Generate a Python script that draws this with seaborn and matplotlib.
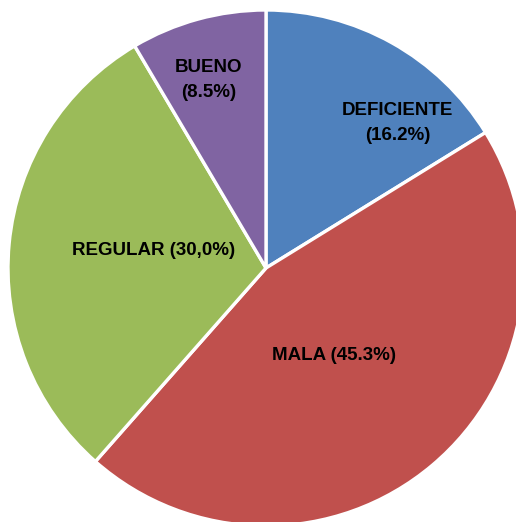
import matplotlib
matplotlib.use("Agg")
import numpy as np
import seaborn as sns
from matplotlib import pyplot as plt

categories = ["DEFICIENTE", "MALA", "REGULAR", "BUENO"]
shares = [16.2, 45.3, 30.0, 8.5]
labels = ["DEFICIENTE\n(16.2%)", "MALA (45.3%)", "REGULAR (30,0%)", "BUENO\n(8.5%)"]
colors = ["#4F81BD", "#C0504D", "#9BBB59", "#8064A2"]

# where each label sits: (angle offset from slice middle in deg, fraction of radius)
label_place = [(-13, 0.76), (-2.5, 0.43), (-3.7, 0.44), (1.6, 0.76)]

sns.set_theme(style="white")
plt.rcParams['font.family'] = ['Liberation Sans Narrow', 'Liberation Sans', 'DejaVu Sans']

fig = plt.figure(figsize=(5.16, 5.22), dpi=100)
ax = fig.add_axes([0, 0, 1, 1])
cx, cy, r = 266, 522 - 268, 258

wedges, _ = ax.pie(shares, colors=colors, startangle=90, counterclock=False,
                   center=(cx, cy), radius=r,
                   wedgeprops=dict(edgecolor="white", linewidth=2.4))

for w, lab, (off, frac) in zip(wedges, labels, label_place):
    mid = np.deg2rad((w.theta1 + w.theta2) / 2 + off)
    x = cx + frac * r * np.cos(mid)
    y = cy + frac * r * np.sin(mid)
    ax.text(x, y, lab, ha="center", va="center", fontsize=13.5, fontweight="bold",
            color="black", linespacing=1.6)

ax.set_xlim(0, 516)
ax.set_ylim(0, 522)
ax.set_aspect("equal")
ax.axis("off")
fig.savefig("out.png", dpi=100)
